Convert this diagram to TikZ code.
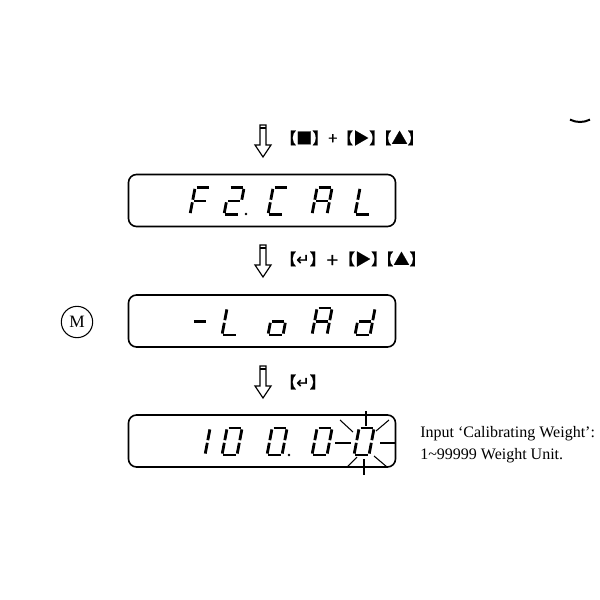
\documentclass[tikz,border=0pt]{standalone}
\usepackage{fontspec}
\setmainfont{Liberation Serif}
\newfontfamily\cjkf[FakeBold=1]{Noto Sans CJK SC}
\newfontfamily\dvf[FakeBold=1]{DejaVu Sans}
\tikzset{
  px/.style={x=0.75pt,y=-0.75pt},
  disp/.style={draw, rounded corners=6pt, line width=1.2pt, minimum width=200.25pt, minimum height=39pt, inner sep=0pt},
  segline/.style={line width=2.1pt},
  ray/.style={line width=0.8pt},
  harrow/.style={line width=0.9pt, line join=miter},
  keylabel/.style={anchor=west, inner sep=0pt, font=\fontsize{12pt}{13pt}\selectfont},
  sidetext/.style={anchor=base west, inner sep=0pt, font=\fontsize{12pt}{14pt}\selectfont},
  mcircle/.style={draw, circle, line width=0.8pt, minimum size=23.5pt, inner sep=0pt, font=\fontsize{13pt}{15pt}\selectfont},
}
% seven-segment pieces, local units (y up), w=15, h=27
\newcommand\sgA{\draw[segline] (1.4,27)--(13.6,27);}
\newcommand\sgB{\draw[segline] (15,25.6)--(15,14.8);}
\newcommand\sgC{\draw[segline] (15,12.2)--(15,1.4);}
\newcommand\sgD{\draw[segline] (1.4,0)--(13.6,0);}
\newcommand\sgE{\draw[segline] (0,1.4)--(0,12.2);}
\newcommand\sgF{\draw[segline] (0,14.8)--(0,25.6);}
\newcommand\sgG{\draw[segline] (1.4,13.5)--(13.6,13.5);}
\newcommand\digit[3]{\begin{scope}[shift={(#1,#2)},x=0.75pt,y=0.75pt,xslant=0.19]#3\end{scope}}
\newcommand\sdot[2]{\fill (#1,#2) circle [radius=1.4];}
\newcommand\harr[2]{%
  \draw[harrow] (#1-3,#2) -- (#1+3,#2) -- (#1+3,#2+20) -- (#1+8,#2+20) -- (#1,#2+32) -- (#1-8,#2+20) -- (#1-3,#2+20) -- cycle;
  \draw[harrow] (#1-3,#2+3) -- (#1+3,#2+3);}
\newcommand\keyb[1]{{\cjkf 【}#1{\cjkf 】}}
\newcommand\kgap{\hspace{-0.6em}}
\begin{document}
\begin{tikzpicture}[px]
\useasboundingbox (0,0) rectangle (600,600);
% displays
\node[disp] (d1) at (262,200.5) {};
\node[disp] (d2) at (262,321) {};
\node[disp] (d3) at (262,441) {};
% mode circle
\node[mcircle] (m) at (77,322) {M};
% arrows and key labels
\harr{263}{125}
\node[keylabel] (k1) at (280,138) {\keyb{\cjkf ■}+\keyb{\cjkf ▶}\kgap\keyb{\cjkf ▲}};
\harr{263}{245}
\node[keylabel] (k2) at (280,259) {\keyb{\dvf ↵}+\keyb{\cjkf ▶}\kgap\keyb{\cjkf ▲}};
\harr{263}{366}
\node[keylabel] (k3) at (280,382) {\keyb{\dvf ↵}};
% display 1: F2.CAL
\digit{190}{214.5}{\sgA\sgF\sgE\sgG}
\digit{224}{214.5}{\sgA\sgB\sgG\sgE\sgD}
\sdot{246}{214}
\digit{268}{214.5}{\sgA\sgF\sgE\sgD}
\digit{312}{214.5}{\sgA\sgB\sgC\sgE\sgF\sgG}
\digit{355}{214.5}{\sgF\sgE\sgD}
% display 2: -LoAd
\digit{190}{335}{\sgG}
\digit{222}{335}{\sgF\sgE\sgD}
\digit{268}{335}{\sgC\sgD\sgE\sgG}
\digit{312}{335}{\sgA\sgB\sgC\sgE\sgF\sgG}
\digit{355}{335}{\sgB\sgC\sgD\sgE\sgG}
% display 3: 100.00
\digit{190}{455}{\sgB\sgC}
\digit{222}{455}{\sgA\sgB\sgC\sgD\sgE\sgF}
\digit{267}{455}{\sgA\sgB\sgC\sgD\sgE\sgF}
\sdot{289}{455}
\digit{312}{455}{\sgA\sgB\sgC\sgD\sgE\sgF}
\digit{354}{455}{\sgA\sgB\sgC\sgD\sgE\sgF}
% flashing rays
\draw[ray] (366,411) -- (366,426);
\draw[ray] (364,459) -- (364,475);
\draw[ray] (335,443) -- (351,443);
\draw[ray] (380,443) -- (396,443);
\draw[ray] (340,420) -- (353,432);
\draw[ray] (376,431) -- (389,420);
\draw[ray] (347,467) -- (357,457);
\draw[ray] (374,456) -- (387,467);
% side text
\node[sidetext] (t1) at (420,437) {Input ‘Calibrating Weight’:};
\node[sidetext] (t2) at (420,459) {1\textasciitilde 99999 Weight Unit.};
% fragment at top right
\draw[line width=1.5pt] (570,119.6) arc[start angle=243, end angle=297, radius=16.5pt];
\end{tikzpicture}
\end{document}
